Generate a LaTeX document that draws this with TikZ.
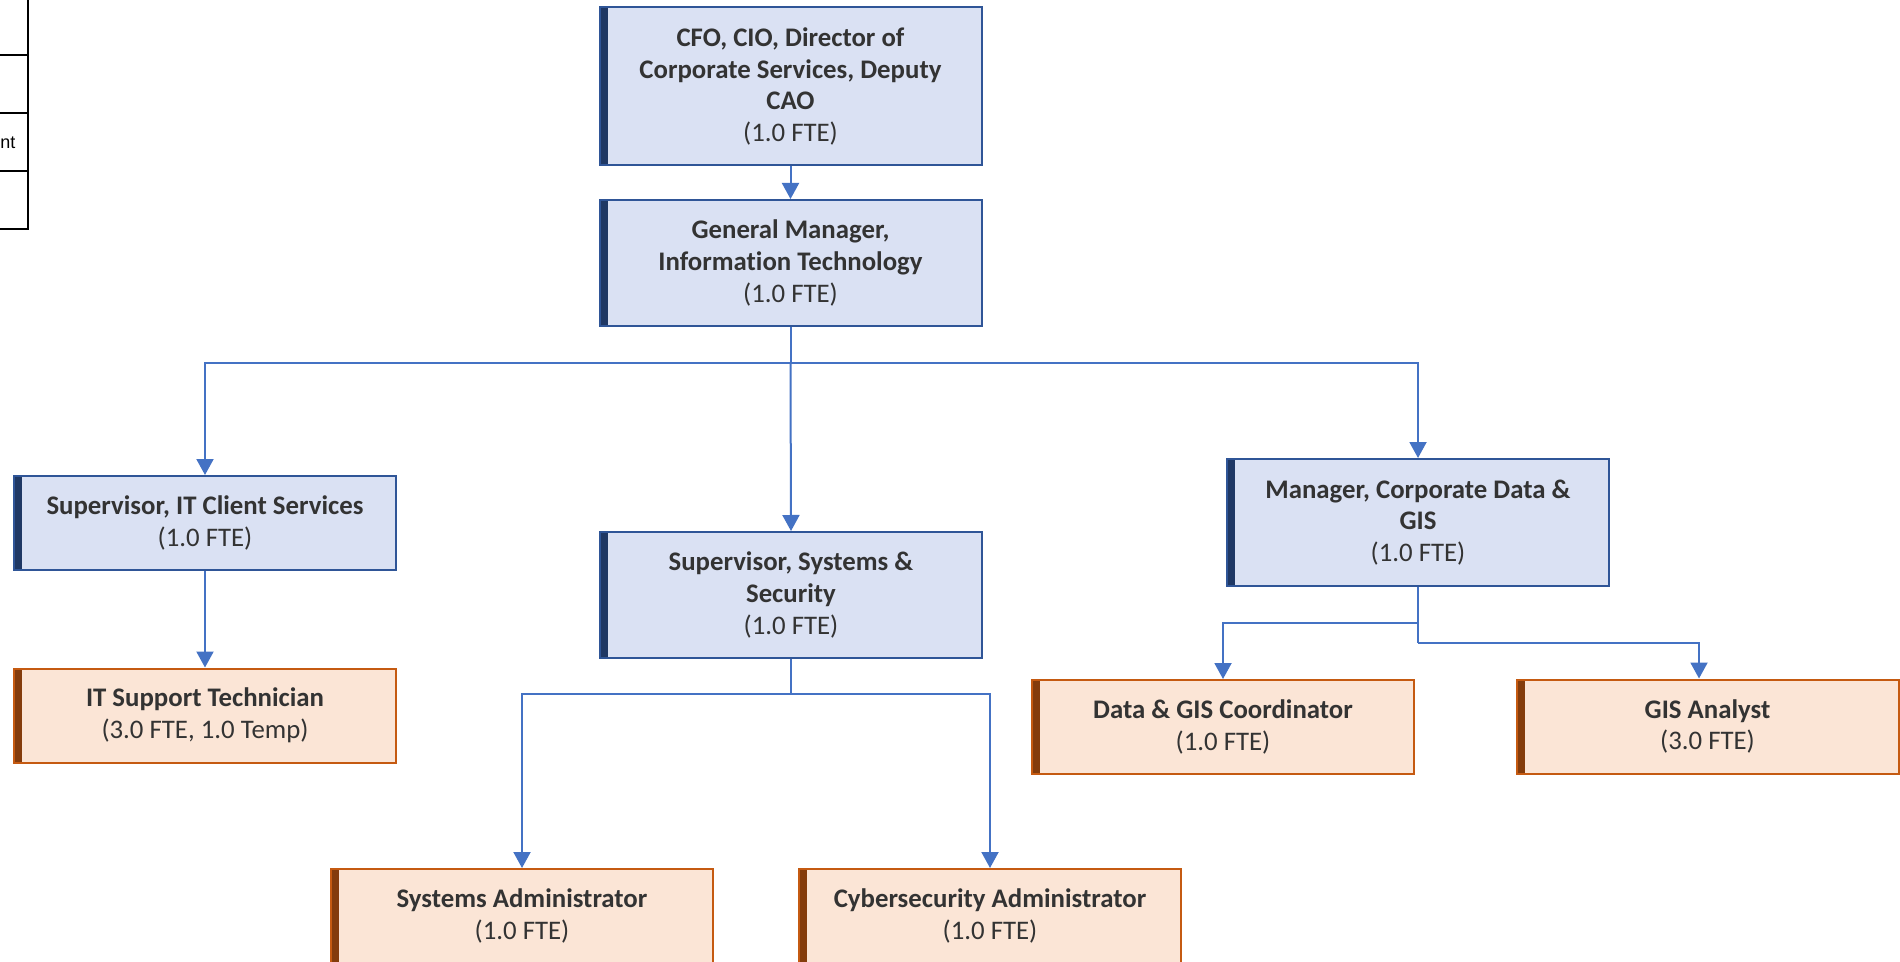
\documentclass[tikz,border=0pt]{standalone}
\usepackage{fontspec}
\setmainfont{Carlito}[Ligatures=NoCommon]
\newfontfamily\arialf{Liberation Sans}
\usetikzlibrary{arrows.meta}
\definecolor{bluefill}{HTML}{DAE1F3}
\definecolor{blueline}{HTML}{2F5597}
\definecolor{bluebar}{HTML}{1F3864}
\definecolor{orfill}{HTML}{FBE5D6}
\definecolor{orline}{HTML}{C55A11}
\definecolor{orbar}{HTML}{843C0C}
\definecolor{conncol}{HTML}{4472C4}
\definecolor{txt}{HTML}{333333}
\tikzset{
  box/.style={rectangle, draw, line width=1pt, minimum width=191pt, inner sep=0pt,
    align=center, text=txt, font=\fontsize{13.4}{15.9}\selectfont},
  bluebox/.style={box, draw=blueline, fill=bluefill,
    path picture={\fill[bluebar] (path picture bounding box.north west) rectangle ([xshift=4pt]path picture bounding box.south west);}},
  orbox/.style={box, draw=orline, fill=orfill,
    path picture={\fill[orbar] (path picture bounding box.north west) rectangle ([xshift=4pt]path picture bounding box.south west);}},
  conn/.style={draw=conncol, line width=1pt, -{Triangle[width=8.5pt,length=8pt]}},
  connline/.style={draw=conncol, line width=1pt},
  tbl/.style={draw=black, line width=1.2pt},
}
\begin{document}
\begin{tikzpicture}[x=0.5pt, y=-0.5pt]
\useasboundingbox (0,0) rectangle (1900,962);
\clip (0,0) rectangle (1900,962);
\fill[white] (0,0) rectangle (1900,962);

% table fragment
\draw[tbl] (0,55) -- (28,55);
\draw[tbl] (0,113) -- (28,113);
\draw[tbl] (0,171) -- (28,171);
\draw[tbl] (0,229) -- (28,229) -- (28,-2);
\node[anchor=west, inner sep=0pt, font=\arialf\fontsize{9}{11}\selectfont] (tx) at (0,143) {nt};

% boxes
\node[bluebox, minimum height=79pt] (cfo) at (790.5,86.5)
  {\textbf{CFO, CIO, Director of}\\\textbf{Corporate Services, Deputy}\\\textbf{CAO}\\(1.0 FTE)};
\node[bluebox, minimum height=63pt] (gm) at (790.5,263)
  {\textbf{General Manager,}\\\textbf{Information Technology}\\(1.0 FTE)};
\node[bluebox, minimum height=47pt] (itc) at (205,523)
  {\textbf{Supervisor, IT Client Services}\\(1.0 FTE)};
\node[bluebox, minimum height=63pt] (sys) at (791,595)
  {\textbf{Supervisor, Systems \&}\\\textbf{Security}\\(1.0 FTE)};
\node[bluebox, minimum height=63.5pt] (mgr) at (1418,522.5)
  {\textbf{Manager, Corporate Data \&}\\\textbf{GIS}\\(1.0 FTE)};
\node[orbox, minimum height=47pt] (its) at (205,715.5)
  {\textbf{IT Support Technician}\\(3.0 FTE, 1.0 Temp)};
\node[orbox, minimum height=47pt] (sa) at (522,916)
  {\textbf{Systems Administrator}\\(1.0 FTE)};
\node[orbox, minimum height=47pt] (cy) at (990,916)
  {\textbf{Cybersecurity Administrator}\\(1.0 FTE)};
\node[orbox, minimum height=47pt] (dg) at (1223,727)
  {\textbf{Data \& GIS Coordinator}\\(1.0 FTE)};
\node[orbox, minimum height=47pt] (gis) at (1707.5,726.5)
  {\textbf{GIS Analyst}\\(3.0 FTE)};

% junctions
\coordinate (j1) at (790.5,363);
\coordinate (j2) at (791,694);
\coordinate (j3) at (1418,623);
\coordinate (j4) at (1418,643);

% connectors
\draw[conn] (cfo.south) -- (gm.north);
\draw[connline] (gm.south) -- (j1);
\draw[conn] (j1) -| (itc.north);
\draw[conn] (j1) -| (mgr.north);
\draw[conn] (j1) -- (sys.north);
\draw[conn] (itc.south) -- (its.north);
\draw[connline] (sys.south) -- (j2);
\draw[conn] (j2) -| (sa.north);
\draw[conn] (j2) -| (cy.north);
\draw[connline] (mgr.south) -- (j4);
\draw[conn] (j3) -| (dg.north);
\draw[conn] (j4) -| ([xshift=-4.25pt]gis.north);
\end{tikzpicture}
\end{document}
